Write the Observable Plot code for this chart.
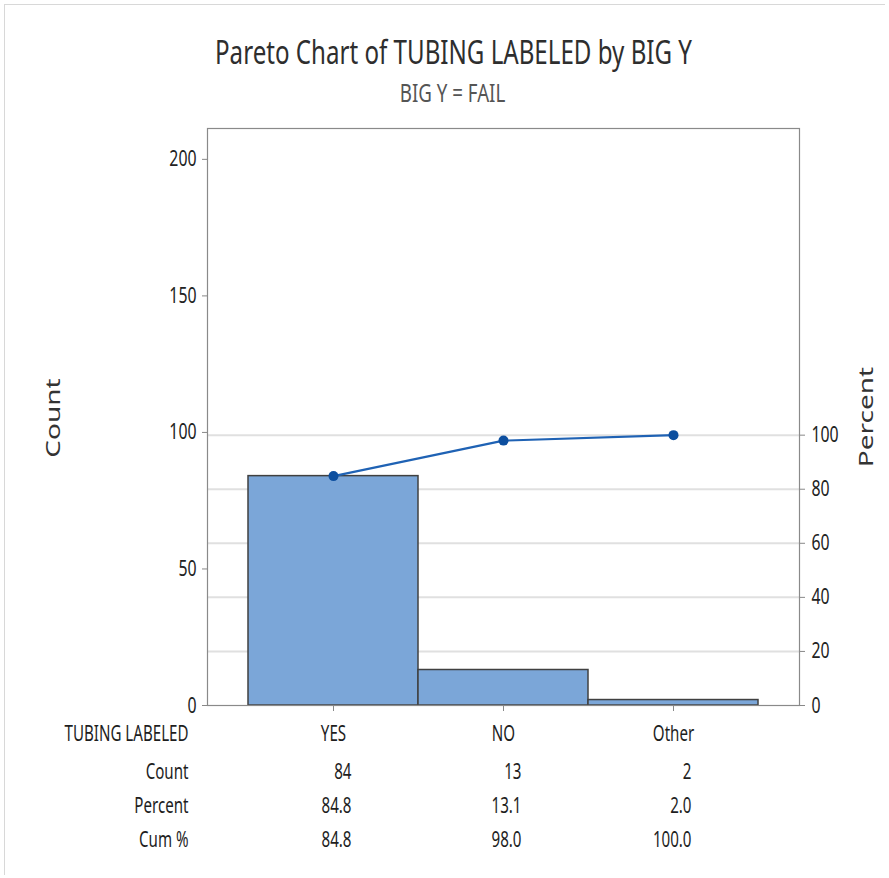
<!DOCTYPE html>
<html><head><meta charset="utf-8">
<script src="https://cdn.jsdelivr.net/npm/d3@7"></script>
<script src="https://cdn.jsdelivr.net/npm/@observablehq/plot@0.6"></script>
<style>
body{margin:0;background:#fff;}
#wrap{position:relative;width:889px;height:878px;overflow:hidden;background:#fff;}
#border{position:absolute;left:4px;top:4px;width:880px;height:870px;border-left:1px solid #d8d8d8;border-top:1px solid #d8d8d8;}
.head{position:absolute;left:9px;width:889px;text-align:center;font-family:"Noto Sans",sans-serif;white-space:nowrap;transform:scaleX(0.72);transform-origin:444.5px 0;line-height:normal;}
#title{top:28px;font-size:33.5px;color:#2e2e2e;}
#subtitle{top:74px;font-size:26px;color:#555;left:8px;}
#chart{position:absolute;left:0;top:0;}
</style></head>
<body><div id="wrap"><div id="border"></div><div id="chart"></div>
<div id="title" class="head">Pareto Chart of TUBING LABELED by BIG Y</div>
<div id="subtitle" class="head">BIG Y = FAIL</div></div>
<script>
const categories = ["YES", "NO", "Other"];
const counts = [84, 13, 2];
const percents = ["84.8", "13.1", "2.0"];
const cumPercents = ["84.8", "98.0", "100.0"];
const countTicks = [0, 50, 100, 150, 200];
const percentTicks = [0, 20, 40, 60, 80, 100];
const rowLabels = ["TUBING LABELED", "Count", "Percent", "Cum %"];

const total = d3.sum(counts);
let running = 0;
const data = categories.map((c, i) => {
  running += counts[i];
  return {cat: c, count: counts[i], pct: percents[i], cumPct: cumPercents[i], cum: running};
});
const pctToCount = p => p * total / 100;

const font = '"Noto Sans",sans-serif';
const tableRows = [
  {label: rowLabels[0], dy: 29, get: d => d.cat, anchor: "middle", dx: 0},
  {label: rowLabels[1], dy: 67, get: d => String(d.count), anchor: "end", dx: 18},
  {label: rowLabels[2], dy: 101, get: d => d.pct, anchor: "end", dx: 18},
  {label: rowLabels[3], dy: 135, get: d => d.cumPct, anchor: "end", dx: 18}
];

const marks = [
  Plot.ruleY(percentTicks.filter(p => p > 0).map(pctToCount), {stroke: "#e0e0e0", strokeWidth: 2}),
  Plot.barY(data, {x: "cat", y: "count", fill: "#7ba6d8", stroke: "#404040", strokeWidth: 1.5}),
  Plot.line(data, {x: "cat", y: "cum", stroke: "#1f62b4", strokeWidth: 2.2}),
  Plot.dot(data, {x: "cat", y: "cum", r: 5, fill: "#0d4f9f", stroke: "none"}),
  Plot.frame({stroke: "#8a8a8a", strokeWidth: 1.2}),
  Plot.axisY({anchor: "left", ticks: countTicks, tickSize: 5, tickPadding: 6, stroke: "#888", fill: "#222", fontSize: 22, label: null}),
  Plot.axisY({anchor: "right", ticks: percentTicks.map(pctToCount), tickFormat: d => String(Math.round(d * 100 / total)), tickSize: 5, tickPadding: 7, stroke: "#888", fill: "#222", fontSize: 22, label: null}),
  Plot.axisX({anchor: "bottom", tickSize: 6, tickFormat: () => "", stroke: "#888", label: null}),
  Plot.text(["Count"], {frameAnchor: "left", text: d => d, rotate: -90, dx: -154, dy: 1, textAnchor: "middle", lineAnchor: "middle", fontSize: 28, fill: "#333"}),
  Plot.text(["Percent"], {frameAnchor: "right", text: d => d, rotate: -90, dx: 67, dy: 0, textAnchor: "middle", lineAnchor: "middle", fontSize: 28, fill: "#333"})
];
for (const row of tableRows) {
  marks.push(Plot.text([row.label], {frameAnchor: "bottom-left", text: d => d, dx: -19, dy: row.dy, textAnchor: "end", lineAnchor: "middle", fontSize: 21, fill: "#1e1e1e"}));
  marks.push(Plot.text(data, {x: "cat", frameAnchor: "bottom", text: row.get, dx: row.dx, dy: row.dy, textAnchor: row.anchor, lineAnchor: "middle", fontSize: 21, fill: "#1e1e1e"}));
}

const chart = Plot.plot({
  width: 889,
  height: 878,
  marginTop: 128,
  marginBottom: 173,
  marginLeft: 207,
  marginRight: 90,
  style: {fontFamily: font, background: "transparent", overflow: "visible"},
  x: {domain: categories, paddingInner: 0, paddingOuter: 0.241, axis: null},
  y: {domain: [0, 211.3], axis: null},
  marks
});

// Condense glyphs horizontally (the reference text is horizontally compressed)
const SQ = 0.72;
d3.select(chart).selectAll("text").each(function() {
  const t = this.getAttribute("transform");
  if (!t) return;
  const rotated = /rotate/.test(t);
  this.setAttribute("transform", t + (rotated ? ` scale(1,${SQ})` : ` scale(${SQ},1)`));
});
document.getElementById("chart").appendChild(chart);
</script></body></html>
